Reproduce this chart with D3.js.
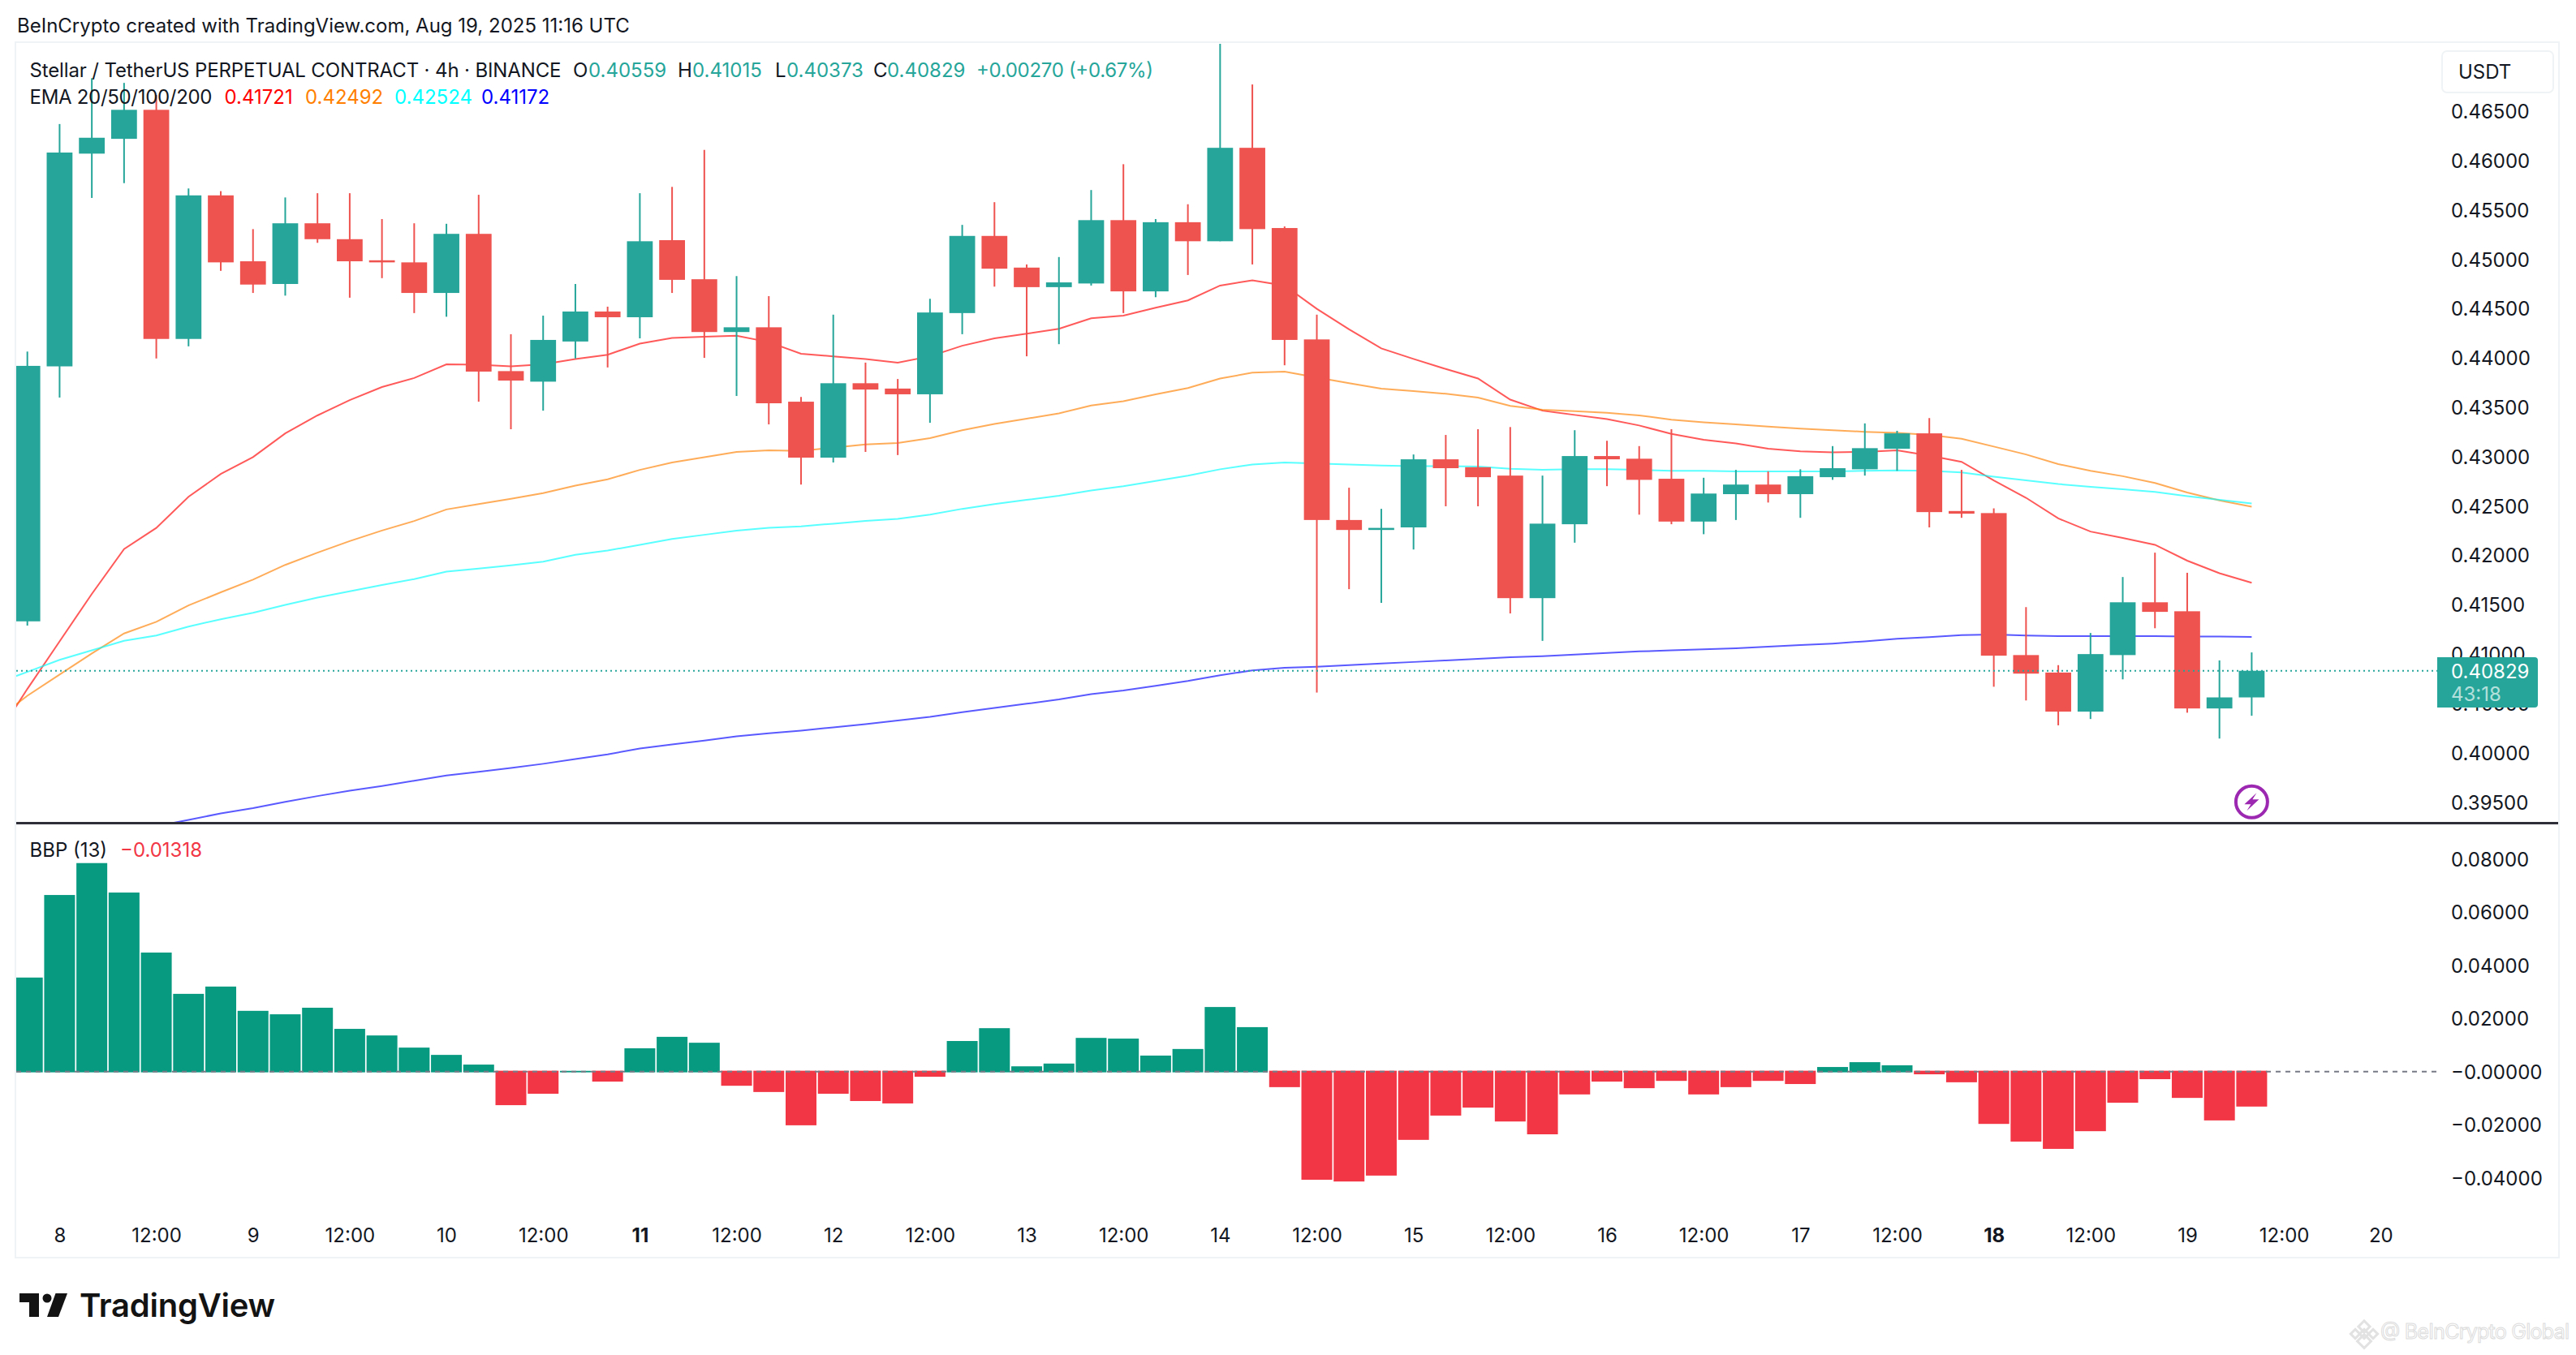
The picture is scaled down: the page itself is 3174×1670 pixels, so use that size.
<!DOCTYPE html>
<html>
<head>
<meta charset="utf-8">
<title>XLMUSDT.P 4h</title>
<script src="https://cdn.jsdelivr.net/npm/d3@7"></script>
<style>
    html, body { margin: 0; padding: 0; background: #fff; }
    svg { display: block; }
    text { font-family: Inter, "Noto Sans", sans-serif; fill: #131722; }
    .axis text { font-size: 24px; font-family: Inter, "Noto Sans", sans-serif; fill: #131722; }
    .axis path, .axis line { display: none; }
</style>
</head>
<body>
<div id="container"></div>
<script>
// 4h candles, first one is Aug 7 20:00
const opens = [.41330,.43914,.46070,.46220,.46514,.44192,.45647,.44979,.44749,.45364,.45203,.44989,.44968,.44658,.45257,.43866,.43759,.44166,.44470,.44412,.45193,.44797,.44262,.44310,.43556,.42989,.43743,.43689,.43631,.44454,.45236,.44915,.44717,.44754,.45396,.44674,.45375,.45182,.46129,.45316,.44187,.42357,.42256,.42282,.42972,.42892,.42807,.41565,.42314,.43005,.42978,.42775,.42341,.42619,.42716,.42619,.42791,.42871,.43079,.43235,.42448,.42427,.40988,.40811,.40415,.40988,.41523,.41432,.40447,.40559];
const highs = [.44064,.46370,.46835,.46787,.46664,.45717,.45690,.45305,.45626,.45669,.45669,.45407,.45364,.45359,.45653,.44240,.44428,.44749,.44519,.45669,.45733,.46108,.44829,.44626,.43604,.44438,.43952,.43786,.44599,.45348,.45578,.44947,.45022,.45701,.45963,.45407,.45557,.47300,.46771,.45332,.44438,.42684,.42470,.43021,.43219,.43277,.43299,.42807,.43267,.43160,.43106,.43277,.42785,.42865,.42849,.42871,.43106,.43336,.43261,.43390,.42865,.42475,.41474,.40886,.41212,.41779,.42026,.41822,.40934,.41015];
const lows = [.41287,.43598,.45621,.45771,.43994,.44117,.44882,.44658,.44631,.45166,.44610,.44808,.44454,.44417,.43556,.43277,.43465,.43994,.43903,.44198,.44658,.44000,.43614,.43326,.42716,.42940,.43047,.43015,.43342,.44240,.44722,.44016,.44139,.44733,.44454,.44615,.44840,.45182,.44947,.43925,.40608,.41656,.41517,.42058,.42496,.42496,.41410,.41132,.42127,.42700,.42411,.42314,.42213,.42357,.42534,.42379,.42764,.42807,.42855,.42282,.42379,.40667,.40528,.40276,.40340,.40742,.41260,.40404,.40142,.40373];
const closes = [.43919,.46081,.46231,.46514,.44192,.45647,.44968,.44743,.45364,.45203,.44979,.44968,.44658,.45257,.43861,.43770,.44182,.44470,.44412,.45182,.44791,.44262,.44310,.43540,.42989,.43743,.43679,.43631,.44460,.45236,.44904,.44717,.44765,.45396,.44674,.45375,.45182,.46129,.45305,.44182,.42357,.42256,.42277,.42972,.42882,.42791,.41565,.42320,.43005,.42972,.42764,.42341,.42625,.42716,.42619,.42801,.42882,.43085,.43235,.42437,.42421,.40982,.40800,.40415,.40998,.41523,.41426,.40447,.40559,.40829];

// EMAs start one bar before the first candle, off the left edge
const ema20 = [.40137,.40645,.41127,.41608,.42063,.42277,.42593,.42823,.42994,.43235,.43417,.43572,.43705,.43796,.43935,.43930,.43914,.43935,.43989,.44032,.44144,.44203,.44214,.44224,.44160,.44042,.44016,.43989,.43952,.44016,.44123,.44198,.44246,.44294,.44401,.44428,.44508,.44583,.44733,.44786,.44733,.44497,.44289,.44096,.43989,.43887,.43791,.43577,.43465,.43422,.43379,.43315,.43229,.43170,.43133,.43079,.43053,.43042,.43047,.43063,.43010,.42946,.42758,.42582,.42373,.42240,.42175,.42106,.41945,.41817,.41721];
const ema50 = [.40324,.40576,.40790,.41004,.41207,.41325,.41491,.41624,.41753,.41902,.42026,.42143,.42250,.42347,.42464,.42518,.42571,.42630,.42705,.42769,.42865,.42940,.42994,.43047,.43063,.43058,.43090,.43122,.43138,.43186,.43267,.43331,.43384,.43438,.43518,.43561,.43631,.43695,.43791,.43850,.43861,.43802,.43743,.43689,.43663,.43636,.43598,.43513,.43475,.43459,.43443,.43417,.43374,.43347,.43326,.43304,.43283,.43267,.43251,.43240,.43219,.43181,.43101,.43021,.42924,.42855,.42801,.42732,.42635,.42555,.42492];
const ema100 = [.40699,.40817,.40939,.41036,.41132,.41186,.41277,.41351,.41416,.41496,.41571,.41635,.41699,.41758,.41833,.41865,.41897,.41935,.42004,.42047,.42106,.42165,.42207,.42250,.42277,.42293,.42320,.42347,.42368,.42411,.42470,.42518,.42561,.42603,.42657,.42700,.42753,.42807,.42871,.42919,.42940,.42930,.42919,.42908,.42903,.42903,.42898,.42876,.42865,.42871,.42871,.42865,.42855,.42855,.42849,.42849,.42849,.42849,.42855,.42860,.42855,.42839,.42796,.42758,.42721,.42694,.42668,.42641,.42598,.42561,.42524];
const ema200 = [null,null,null,null,.39185,.39254,.39318,.39383,.39436,.39500,.39559,.39613,.39661,.39714,.39768,.39805,.39843,.39886,.39934,.39982,.40041,.40083,.40121,.40164,.40196,.40223,.40255,.40287,.40324,.40362,.40410,.40453,.40495,.40538,.40592,.40629,.40677,.40725,.40784,.40832,.40859,.40870,.40886,.40902,.40918,.40934,.40950,.40966,.40977,.40993,.41009,.41025,.41036,.41046,.41057,.41073,.41089,.41105,.41127,.41153,.41170,.41191,.41196,.41186,.41180,.41180,.41180,.41180,.41175,.41175,.41172];

const bbp = [.03535,.06640,.07841,.06732,.04475,.02922,.03196,.02283,.02153,.02400,.01605,.01357,.00900,.00626,.00261,-.01265,-.00835,.00026,-.00378,.00874,.01305,.01083,-.00535,-.00770,-.02022,-.00835,-.01109,-.01200,-.00196,.01148,.01631,.00196,.00300,.01265,.01239,.00600,.00848,.02427,.01670,-.00587,-.04070,-.04136,-.03914,-.02570,-.01657,-.01357,-.01879,-.02361,-.00861,-.00378,-.00626,-.00352,-.00861,-.00587,-.00352,-.00470,.00170,.00352,.00235,-.00104,-.00404,-.01970,-.02635,-.02909,-.02244,-.01174,-.00287,-.00992,-.01839,-.01318];

const priceTicks = [.395,.40,.405,.41,.415,.42,.425,.43,.435,.44,.445,.45,.455,.46,.465];
const bbpTicks = [.08,.06,.04,.02,0,-.02,-.04];
const bbpTickLabels = ["0.08000","0.06000","0.04000","0.02000","−0.00000","−0.02000","−0.04000"];
const timeTicks = [1,4,7,10,13,16,19,22,25,28,31,34,37,40,43,46,49,52,55,58,61,64,67,70,73];
const timeLabels = ["8","12:00","9","12:00","10","12:00","11","12:00","12","12:00","13","12:00","14","12:00","15","12:00","16","12:00","17","12:00","18","12:00","19","12:00","20"];
const boldLabels = ["11","18"];

const lastClose = 0.40829;
const upColor = "#26a69a", downColor = "#ef5350";
const histUp = "#089981", histDown = "#f23645";

const width = 3174, height = 1670;
const pane = { left: 20, right: 3152, top: 54, sep: 1014, bottom: 1549 };
const axisX = 3020;

const x = d3.scaleLinear().domain([0, 69]).range([33.7, 2774.4]);
const step = x(1) - x(0);
const yPrice = d3.scaleLinear().domain([0.39297, 0.47183]).range([1013, 54]);
const yBbp = d3.scaleLinear().domain([-0.04, 0.08]).range([1451.7, 1058.5]);

const svg = d3.select("#container").append("svg").attr("width", width).attr("height", height);
const defs = svg.append("defs");
defs.append("clipPath").attr("id", "clipPrice").append("rect")
    .attr("x", pane.left).attr("y", pane.top).attr("width", pane.right - pane.left).attr("height", pane.sep - pane.top);
defs.append("clipPath").attr("id", "clipBbp").append("rect")
    .attr("x", pane.left).attr("y", pane.sep).attr("width", pane.right - pane.left).attr("height", pane.bottom - pane.sep);

// frame
svg.append("rect").attr("x", pane.left - 1).attr("y", pane.top - 2).attr("width", pane.right - pane.left + 2).attr("height", pane.bottom - pane.top + 3)
    .attr("fill", "none").attr("stroke", "#f0f3f5").attr("stroke-width", 2);

// axes
svg.append("g").attr("class", "axis").attr("transform", "translate(" + axisX + ",1)")
    .call(d3.axisRight(yPrice).tickValues(priceTicks).tickSize(0).tickPadding(0).tickFormat(d3.format(".5f")));
svg.append("g").attr("class", "axis").attr("transform", "translate(" + axisX + ",1)")
    .call(d3.axisRight(yBbp).tickValues(bbpTicks).tickSize(0).tickPadding(0).tickFormat(function (d, i) { return bbpTickLabels[i]; }));
const timeAxis = svg.append("g").attr("class", "axis").attr("transform", "translate(0,1514)")
    .call(d3.axisBottom(x).tickValues(timeTicks).tickSize(0).tickPadding(0).tickFormat(function (d, i) { return timeLabels[i]; }));
timeAxis.selectAll("text").style("font-weight", function (d, i) { return boldLabels.indexOf(timeLabels[i]) >= 0 ? 700 : 400; });

// price pane
const pricePane = svg.append("g").attr("clip-path", "url(#clipPrice)");
const emaLine = d3.line()
    .defined(function (d) { return d !== null; })
    .x(function (d, i) { return x(i - 1); })
    .y(function (d) { return yPrice(d); });
[[ema20, "#ff0000"], [ema50, "#ff7f00"], [ema100, "#00ffff"], [ema200, "#0000ff"]].forEach(function (s) {
    pricePane.append("path").attr("d", emaLine(s[0])).attr("fill", "none")
        .attr("stroke", s[1]).attr("stroke-opacity", 0.65).attr("stroke-width", 2);
});

const candles = pricePane.selectAll(".candle").data(opens).enter().append("g").attr("class", "candle")
    .attr("fill", function (d, i) { return closes[i] >= d ? upColor : downColor; });
candles.append("rect")
    .attr("x", function (d, i) { return x(i) - 1; })
    .attr("width", 2)
    .attr("y", function (d, i) { return yPrice(highs[i]); })
    .attr("height", function (d, i) { return yPrice(lows[i]) - yPrice(highs[i]); });
candles.append("rect")
    .attr("x", function (d, i) { return x(i) - step * 0.4; })
    .attr("width", step * 0.8)
    .attr("y", function (d, i) { return yPrice(Math.max(d, closes[i])); })
    .attr("height", function (d, i) { return Math.max(2, Math.abs(yPrice(d) - yPrice(closes[i]))); });

// last price line
svg.append("line").attr("x1", pane.left).attr("x2", 3003)
    .attr("y1", yPrice(lastClose)).attr("y2", yPrice(lastClose))
    .attr("stroke", upColor).attr("stroke-width", 2).attr("stroke-dasharray", "2 4");

// separator between the panes
svg.append("rect").attr("x", pane.left).attr("y", pane.sep - 1).attr("width", pane.right - pane.left).attr("height", 3).attr("fill", "#2e2e38");

// bbp pane
const bbpPane = svg.append("g").attr("clip-path", "url(#clipBbp)");
bbpPane.selectAll(".bar").data(bbp).enter().append("rect").attr("class", "bar")
    .attr("x", function (d, i) { return x(i) - 19; })
    .attr("width", 38)
    .attr("y", function (d) { return d >= 0 ? yBbp(d) : yBbp(0) - 1; })
    .attr("height", function (d) { return Math.abs(yBbp(d) - yBbp(0)) + 1; })
    .attr("fill", function (d) { return d >= 0 ? histUp : histDown; });
svg.append("line").attr("x1", pane.left).attr("x2", 3002)
    .attr("y1", yBbp(0)).attr("y2", yBbp(0))
    .attr("stroke", "#787b86").attr("stroke-width", 2).attr("stroke-dasharray", "6 6");

// last price tag
const tag = svg.append("g");
tag.append("path").attr("d", "M3003,810H3123a4,4 0 0 1 4,4V868a4,4 0 0 1 -4,4H3003Z").attr("fill", upColor);
tag.append("text").attr("x", axisX).attr("y", 836).attr("font-size", 24).style("fill", "#fff").text("0.40829");
tag.append("text").attr("x", axisX).attr("y", 864).attr("font-size", 24).style("fill", "#fff").style("opacity", 0.65).text("43:18");

// bolt on the last bar
const bolt = svg.append("g").attr("transform", "translate(" + x(69) + "," + yPrice(0.395) + ")");
bolt.append("circle").attr("r", 19.5).attr("fill", "#fff").attr("stroke", "#9c27b0").attr("stroke-width", 4);
bolt.append("path").attr("d", "M6,-11L-9,3H-1L-6,11L9,-3H1Z").attr("fill", "#9c27b0");

// USDT button
svg.append("rect").attr("x", 3009).attr("y", 63).attr("width", 137).attr("height", 51).attr("rx", 6)
    .attr("fill", "#fff").attr("stroke", "#f0f3f5").attr("stroke-width", 2);
svg.append("text").attr("x", 3029).attr("y", 97).attr("font-size", 24).text("USDT");

// header and legends
function label(xp, yp, txt, color, size) {
    const t = svg.append("text").attr("x", xp).attr("y", yp).attr("font-size", size || 24).text(txt);
    if (color) t.style("fill", color);
    return t;
}
label(21, 40, "BeInCrypto created with TradingView.com, Aug 19, 2025 11:16 UTC");
label(36.5, 95, "Stellar / TetherUS PERPETUAL CONTRACT · 4h · BINANCE").attr("textLength", 655);
label(706, 95, "O"); label(725, 95, "0.40559", upColor);
label(835, 95, "H"); label(853, 95, "0.41015", upColor);
label(955, 95, "L"); label(969, 95, "0.40373", upColor);
label(1076, 95, "C"); label(1093, 95, "0.40829", upColor);
label(1203, 95, "+0.00270 (+0.67%)", upColor).attr("textLength", 218);
label(36.5, 128, "EMA 20/50/100/200").attr("textLength", 225);
label(276.5, 128, "0.41721", "#ff0000");
label(376, 128, "0.42492", "#ff7f00");
label(486, 128, "0.42524", "#00ffff");
label(593, 128, "0.41172", "#0000ff");
label(36.5, 1056, "BBP (13)");
label(148, 1056, "−0.01318", histDown);

// TradingView logo
svg.append("path").attr("d", "M24,1594H48V1623H36V1605H24Z").attr("fill", "#131313");
svg.append("circle").attr("cx", 58).attr("cy", 1600).attr("r", 5.5).attr("fill", "#131313");
svg.append("path").attr("d", "M68.5,1594H83L72,1623H58Z").attr("fill", "#131313");
label(98, 1623, "TradingView", "#131313", 40).style("font-weight", 600).attr("textLength", 241);

// watermark
const mark = svg.append("g").attr("transform", "translate(2913,1644)").attr("fill", "none").attr("stroke", "#e2e2e2").attr("stroke-width", 3);
[[0, -9, 5], [-11, 0, 4], [11, 0, 4], [0, 0, 4], [0, 9, 6]].forEach(function (d) {
    mark.append("rect").attr("x", d[0] - d[2]).attr("y", d[1] - d[2]).attr("width", 2 * d[2]).attr("height", 2 * d[2])
        .attr("transform", "rotate(45 " + d[0] + " " + d[1] + ")");
});
label(2933, 1650, "@ BeInCrypto Global", "#fff", 25).attr("stroke", "#dcdcdc").attr("stroke-width", 1).attr("textLength", 233);
</script>
</body>
</html>
